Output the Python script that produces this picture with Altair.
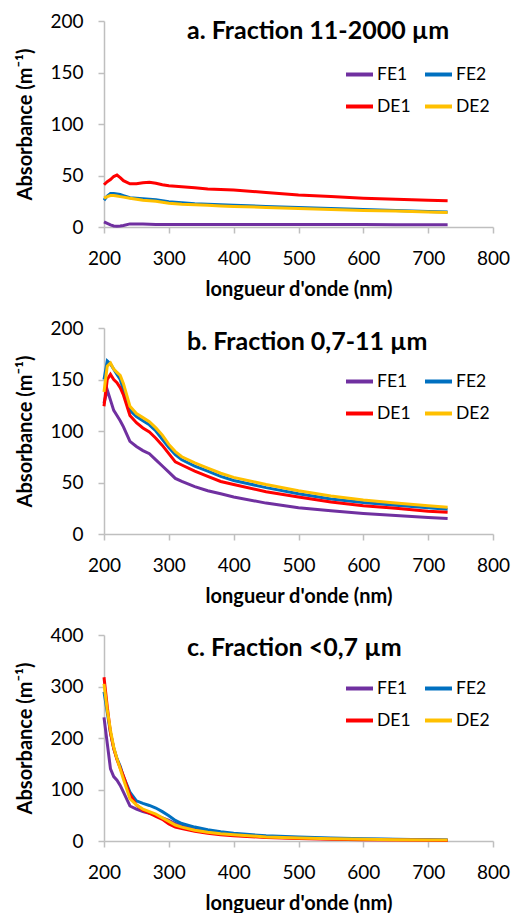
import altair as alt
import pandas as pd

wl = [200, 205, 210, 215, 220, 225, 230, 240, 250, 260, 270, 280, 290, 300,
      310, 320, 340, 360, 380, 400, 450, 500, 550, 600, 650, 700, 730]

series = ["FE1", "FE2", "DE1", "DE2"]
colors = ["#7030A0", "#0070C0", "#FF0000", "#FFC000"]

# Panel a: Fraction 11-2000 µm
a_FE1 = [5, 3.5, 2, 1, 0.8, 1, 1.5, 3, 3, 2.8, 2.6, 2.5, 2.5, 2.5, 2.5, 2.5, 2.5, 2.5, 2.5, 2.5, 2.5, 2.5, 2.5, 2.4, 2.3, 2.2, 2.2]
a_FE2 = [26, 30, 32.5, 32.5, 32, 31.5, 30.5, 28.5, 28, 27.5, 27, 26.5, 25.5, 24.5, 24, 23.5, 22.5, 22, 21.5, 21, 20, 19, 18, 17, 16, 15, 14.5]
a_DE1 = [41, 44, 46, 49, 50.5, 48, 45, 42, 42, 43, 43.5, 42.5, 41, 40, 39.5, 39, 38, 37, 36.5, 36, 33.5, 31, 29.5, 28, 27, 26, 25.5]
a_DE2 = [28, 29.5, 30.5, 30.5, 30, 29.5, 29, 28, 27, 26, 25.5, 25, 24, 23, 22.5, 22, 21.5, 21, 20.5, 20, 19, 18, 17, 16, 15.5, 14.5, 14]

# Panel b: Fraction 0,7-11 µm
b_FE1 = [127, 140, 130, 120, 115, 110, 104, 90, 85, 81, 78, 72, 66, 60, 54, 51, 46, 42, 39, 36, 30, 25.5, 22.5, 20, 18, 16, 15]
b_FE2 = [150, 168, 165, 160, 155, 150, 140, 120, 114, 110, 106, 100, 92, 84, 77, 72, 66, 61, 56, 52, 45, 39, 34, 30.5, 28, 25.5, 24]
b_DE1 = [124, 150, 155, 150, 147, 142, 135, 115, 108, 103, 99, 93, 86, 78, 70, 67, 61, 56, 51, 48, 41, 36, 31, 27.5, 25, 22, 21]
b_DE2 = [138, 163, 166, 160, 157, 154, 146, 124, 117, 113, 109, 103, 96, 87, 80, 75, 69, 64, 59, 55, 48, 42, 37, 33, 30, 27.5, 26]

# Panel c: Fraction <0,7 µm
c_FE1 = [240, 190, 140, 125, 118, 108, 95, 68, 62, 57, 54, 50, 45, 40, 34, 30, 24, 19, 15, 12, 8, 6, 4.5, 3.5, 3, 2.5, 2]
c_FE2 = [290, 250, 210, 180, 160, 145, 125, 95, 78, 73, 69, 64, 57, 49, 40, 34, 27, 22, 18, 15, 10, 8, 6, 4.5, 3.5, 2.5, 2]
c_DE1 = [318, 261, 210, 180, 158, 142, 126, 90, 70, 60, 54, 48, 42, 33, 27, 24, 19, 15, 12, 10, 7, 5, 3.5, 2.5, 2, 1.5, 1]
c_DE2 = [305, 255, 215, 182, 160, 140, 120, 82, 70, 62, 57, 52, 45, 38, 31, 27, 21, 17, 14, 12, 8, 6, 4.5, 3.5, 2.5, 2, 2]

titles = ["a. Fraction 11-2000 µm", "b. Fraction 0,7-11 µm", "c. Fraction <0,7 µm"]
title_y = [10, 14, 13]
ymax = [200, 200, 400]
ystep = [50, 50, 100]
x_ticks = [200, 300, 400, 500, 600, 700, 800]

FONT = "Lato"


def make_df(vals):
    rows = []
    for name, v in zip(series, vals):
        for w, y in zip(wl, v):
            rows.append({"wl": w, "val": y, "serie": name})
    return pd.DataFrame(rows)


def panel(vals, title, ty, top, step):
    df = make_df(vals)
    lines = alt.Chart(df).mark_line(strokeWidth=3).encode(
        x=alt.X("wl:Q", scale=alt.Scale(domain=[200, 800], nice=False),
                axis=alt.Axis(values=x_ticks, title="longueur d'onde (nm)")),
        y=alt.Y("val:Q", scale=alt.Scale(domain=[0, top], nice=False),
                axis=alt.Axis(values=list(range(0, top + 1, step)), title="Absorbance (m⁻¹)")),
        color=alt.Color("serie:N", sort=series,
                        scale=alt.Scale(domain=series, range=colors),
                        legend=alt.Legend(orient="none", legendX=240, legendY=38, columns=2,
                                          direction="horizontal",
                                          title=None, symbolType="stroke", symbolSize=729,
                                          symbolStrokeWidth=4, labelFont=FONT, labelFontSize=17.5,
                                          labelColor="#000000", columnPadding=6, rowPadding=8,
                                          labelOffset=2)),
    )
    txt = alt.Chart(pd.DataFrame({"t": [title]})).mark_text(
        font=FONT, fontSize=25, fontWeight="bold", color="#000000", baseline="middle", align="left"
    ).encode(text="t:N", x=alt.value(83), y=alt.value(ty))
    return alt.layer(lines, txt).properties(width=389, height=206)


all_vals = [[a_FE1, a_FE2, a_DE1, a_DE2], [b_FE1, b_FE2, b_DE1, b_DE2], [c_FE1, c_FE2, c_DE1, c_DE2]]
panels = [panel(v, t, ty, m, s) for v, t, ty, m, s in zip(all_vals, titles, title_y, ymax, ystep)]

chart = alt.vconcat(*panels, spacing=101, bounds="flush").resolve_scale(color="independent").properties(
    padding={"left": 15, "top": 12, "right": 2, "bottom": 0}
).configure_view(stroke=None).configure_axis(
    grid=False, domainColor="#BFBFBF", tickColor="#BFBFBF", domainWidth=1.5, tickWidth=1.5,
    tickSize=6, labelFont=FONT, labelFontSize=19, labelColor="#000000", labelFlush=False,
    titleFont=FONT, titleFontSize=20, titleFontWeight="bold", titleColor="#000000"
).configure_axisX(labelPadding=16, titlePadding=11).configure_axisY(labelPadding=15, titlePadding=14)

chart.save("out.html", embed_options={"renderer": "svg", "actions": False})
